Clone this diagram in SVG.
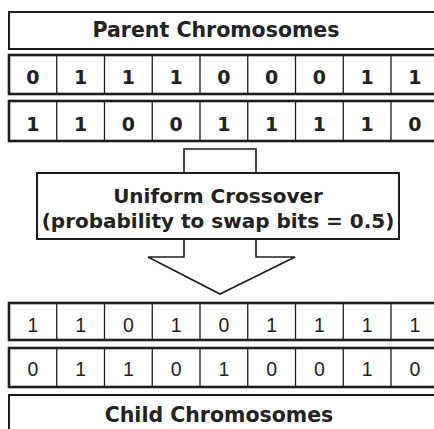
<svg xmlns="http://www.w3.org/2000/svg" width="434" height="429" viewBox="0 0 434 429">
  <defs>
    <style>
      .frame { fill: #ffffff; stroke: #1e1e1e; stroke-width: 2; }
      .row { fill: #ffffff; stroke: #1e1e1e; stroke-width: 2.6; }
      .div { stroke: #1e1e1e; stroke-width: 1.3; }
      .title { font-family: "DejaVu Sans", Verdana, sans-serif; font-weight: bold; font-size: 20.5px; fill: #222222; text-anchor: middle; }
      .pbit { font-family: "DejaVu Sans", Verdana, sans-serif; font-weight: bold; font-size: 19px; fill: #222222; text-anchor: middle; }
      .cbit { font-family: "Liberation Sans", Arial, sans-serif; font-size: 19.5px; fill: #222222; text-anchor: middle; }
      .arrow { fill: #ffffff; stroke: #1e1e1e; stroke-width: 1.6; stroke-linejoin: miter; }
    </style>
    <!-- eight cell dividers shared by every bit row -->
    <g id="dividers">
      <line class="div" x1="56.75" y1="0" x2="56.75" y2="1"/>
      <line class="div" x1="104.5" y1="0" x2="104.5" y2="1"/>
      <line class="div" x1="152.25" y1="0" x2="152.25" y2="1"/>
      <line class="div" x1="200" y1="0" x2="200" y2="1"/>
      <line class="div" x1="247.75" y1="0" x2="247.75" y2="1"/>
      <line class="div" x1="295.5" y1="0" x2="295.5" y2="1"/>
      <line class="div" x1="343.25" y1="0" x2="343.25" y2="1"/>
      <line class="div" x1="391" y1="0" x2="391" y2="1"/>
    </g>
  </defs>

  <rect width="434" height="429" fill="#ffffff"/>

  <!-- block arrow between parents and children -->
  <g id="connectors">
    <polygon class="arrow" points="184,149 256,149 256,257 295,257 220,294 148,257 184,257"/>
  </g>

  <g id="parent-label">
    <rect class="frame" x="9" y="12" width="440" height="37"/>
    <text class="title" x="216" y="37">Parent Chromosomes</text>
  </g>

  <g id="parent-1">
    <rect class="row" x="9" y="55" width="440" height="39"/>
    <use href="#dividers" transform="translate(0,55) scale(1,39)"/>
    <g class="pbit">
      <text x="32.9" y="84">0</text>
      <text x="80.6" y="84">1</text>
      <text x="128.4" y="84">1</text>
      <text x="176.1" y="84">1</text>
      <text x="223.9" y="84">0</text>
      <text x="271.6" y="84">0</text>
      <text x="319.4" y="84">0</text>
      <text x="367.1" y="84">1</text>
      <text x="414.9" y="84">1</text>
    </g>
  </g>

  <g id="parent-2">
    <rect class="row" x="9" y="101" width="440" height="40"/>
    <use href="#dividers" transform="translate(0,101) scale(1,40)"/>
    <g class="pbit">
      <text x="32.9" y="131">1</text>
      <text x="80.6" y="131">1</text>
      <text x="128.4" y="131">0</text>
      <text x="176.1" y="131">0</text>
      <text x="223.9" y="131">1</text>
      <text x="271.6" y="131">1</text>
      <text x="319.4" y="131">1</text>
      <text x="367.1" y="131">1</text>
      <text x="414.9" y="131">0</text>
    </g>
  </g>

  <g id="crossover">
    <rect class="frame" x="37" y="173" width="362" height="66"/>
    <text class="title" x="218" y="203" style="font-size:20px">Uniform Crossover</text>
    <text class="title" x="218" y="228" style="font-size:20px">(probability to swap bits = 0.5)</text>
  </g>

  <g id="child-1">
    <rect class="row" x="9" y="303" width="440" height="37"/>
    <use href="#dividers" transform="translate(0,303) scale(1,37)"/>
    <g class="cbit">
      <text x="32.9" y="332">1</text>
      <text x="80.6" y="332">1</text>
      <text x="128.4" y="332">0</text>
      <text x="176.1" y="332">1</text>
      <text x="223.9" y="332">0</text>
      <text x="271.6" y="332">1</text>
      <text x="319.4" y="332">1</text>
      <text x="367.1" y="332">1</text>
      <text x="414.9" y="332">1</text>
    </g>
  </g>

  <g id="child-2">
    <rect class="row" x="9" y="348" width="440" height="39"/>
    <use href="#dividers" transform="translate(0,348) scale(1,39)"/>
    <g class="cbit">
      <text x="32.9" y="376">0</text>
      <text x="80.6" y="376">1</text>
      <text x="128.4" y="376">1</text>
      <text x="176.1" y="376">0</text>
      <text x="223.9" y="376">1</text>
      <text x="271.6" y="376">0</text>
      <text x="319.4" y="376">0</text>
      <text x="367.1" y="376">1</text>
      <text x="414.9" y="376">0</text>
    </g>
  </g>

  <g id="child-label">
    <rect class="frame" x="9" y="395" width="440" height="45"/>
    <text class="title" x="219" y="422">Child Chromosomes</text>
  </g>
</svg>
